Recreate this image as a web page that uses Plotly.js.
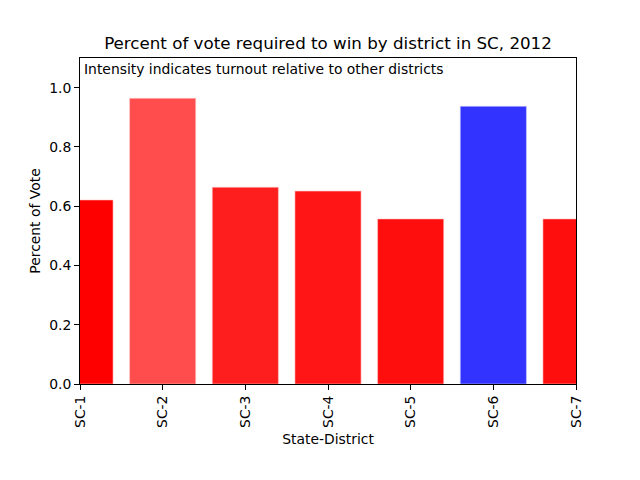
<!DOCTYPE html>
<html>
<head>
<meta charset="utf-8">
<script src="https://cdn.plot.ly/plotly-3.0.1.min.js"></script>
<style>html,body{margin:0;padding:0;background:#fff;}#chart{width:640px;height:480px;}</style>
</head>
<body>
<div id="chart"></div>
<script>
const districts = ["SC-1", "SC-2", "SC-3", "SC-4", "SC-5", "SC-6", "SC-7"];
const percentToWin = [0.621, 0.964, 0.664, 0.651, 0.557, 0.937, 0.557];
const barColors = ["#ff0000", "#ff4d4d", "#ff1e1e", "#ff1515", "#ff0e0e", "#3333ff", "#ff0e0e"];
const outlineColors = ["#ffc8c8", "#ffc8c8", "#ffc8c8", "#ffc8c8", "#ffc8c8", "#c8c8ff", "#ffc8c8"];
const yTicks = [0.0, 0.2, 0.4, 0.6, 0.8, 1.0];
const yTickText = ["0.0", "0.2", "0.4", "0.6", "0.8", "1.0"];

const font = "DejaVu Sans, sans-serif";

Plotly.newPlot("chart", [{
  type: "bar",
  x: districts,
  y: percentToWin,
  width: 0.8,
  marker: {color: barColors, line: {color: outlineColors, width: 0.6}},
  hoverinfo: "none"
}], {
  width: 640, height: 480,
  margin: {l: 80, r: 64, t: 58, b: 96},
  paper_bgcolor: "#fff", plot_bgcolor: "#fff",
  font: {family: font, size: 13.9, color: "#000"},
  showlegend: false,
  title: {text: "Percent of vote required to win by district in SC, 2012",
          font: {family: font, size: 16.7, color: "#000"},
          x: 0.5, xref: "paper", y: 1 - 43/480, yref: "container", yanchor: "middle"},
  xaxis: {type: "category", range: [0, 6], showgrid: false, zeroline: false,
          showline: true, linecolor: "#000", linewidth: 1, mirror: true,
          ticks: "outside", ticklen: 5, tickwidth: 1, tickcolor: "#000",
          tickangle: -90, automargin: false,
          title: {text: "State-District", font: {family: font, size: 13.9}, standoff: 7}},
  yaxis: {range: [0, 1.1], showgrid: false, zeroline: false,
          showline: true, linecolor: "#000", linewidth: 1, mirror: true,
          ticks: "outside", ticklen: 5, tickwidth: 1, tickcolor: "#000",
          tickvals: yTicks, ticktext: yTickText, automargin: false,
          title: {text: "Percent of Vote", font: {family: font, size: 13.9}, standoff: 5}},
  annotations: [{
    text: "Intensity indicates turnout relative to other districts",
    xref: "paper", yref: "paper", x: 0, y: 1, xanchor: "left", yanchor: "top",
    xshift: 2, yshift: -1, showarrow: false,
    font: {family: font, size: 13.9, color: "#000"}
  }]
}, {displayModeBar: false, staticPlot: true});
</script>
</body>
</html>
